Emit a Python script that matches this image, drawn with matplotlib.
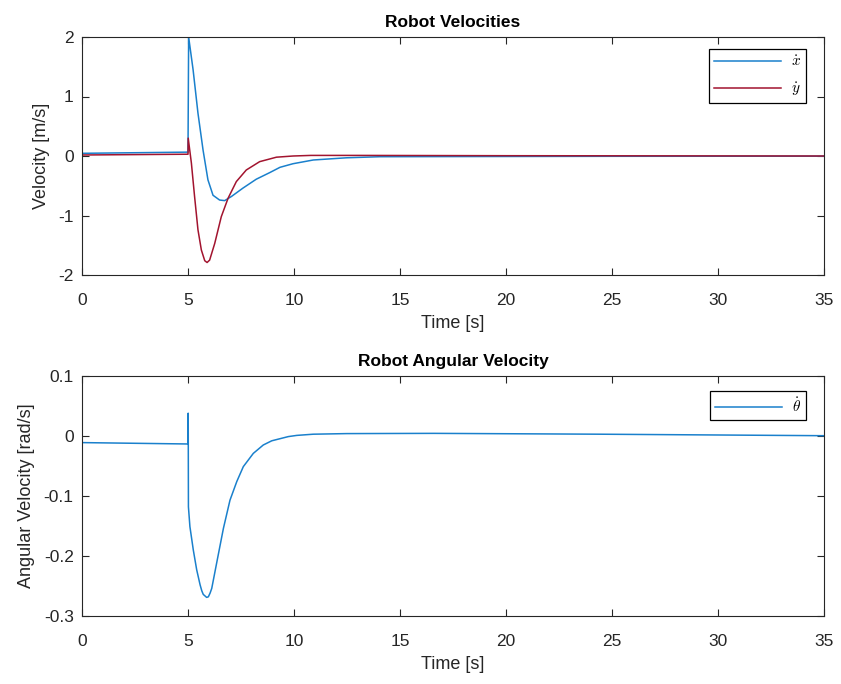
import matplotlib.pyplot as plt

plt.rcParams['font.family'] = ['Liberation Sans', 'DejaVu Sans']
plt.rcParams['axes.unicode_minus'] = False
plt.rcParams['mathtext.fontset'] = 'cm'

# x velocity
t_xdot = [0, 5.0, 5.03, 5.24, 5.47, 5.71, 5.94, 6.18, 6.49, 6.73, 7.05, 7.59,
          8.22, 8.85, 9.34, 9.95, 10.91, 12.48, 14.06, 17, 25, 35]
xdot = [0.045, 0.065, 2.0, 1.45, 0.72, 0.10, -0.40, -0.66, -0.74, -0.75, -0.68, -0.54,
        -0.39, -0.28, -0.19, -0.13, -0.067, -0.03, -0.012, -0.01, -0.005, -0.003]

# y velocity
t_ydot = [0, 5.0, 5.01, 5.16, 5.31, 5.47, 5.63, 5.79, 5.9, 6.02, 6.26, 6.57,
          6.89, 7.28, 7.75, 8.38, 9.17, 9.96, 10.8, 13, 20, 35]
ydot = [0.017, 0.03, 0.30, -0.12, -0.68, -1.24, -1.58, -1.76, -1.79, -1.75, -1.47, -1.02,
        -0.71, -0.43, -0.235, -0.095, -0.02, 0.0, 0.01, 0.01, 0.005, 0.0]

# angular velocity
t_thdot = [0, 5.0, 5.01, 5.02, 5.09, 5.25, 5.41, 5.57, 5.65, 5.72, 5.88, 5.96,
           6.04, 6.12, 6.35, 6.67, 6.98, 7.3, 7.61, 8.08, 8.55, 8.95, 9.73,
           10.13, 10.91, 12.48, 16.6, 24.4, 35]
thdot = [-0.011, -0.0133, 0.038, -0.118, -0.151, -0.19, -0.223, -0.248, -0.258, -0.264, -0.269, -0.268,
         -0.262, -0.254, -0.212, -0.154, -0.107, -0.076, -0.051, -0.029, -0.015, -0.008, -0.001,
         0.001, 0.003, 0.004, 0.0044, 0.003, 0.0005]

xticks = [0, 5, 10, 15, 20, 25, 30, 35]
yticks_top = [-2, -1, 0, 1, 2]
yticks_bot = [-0.3, -0.2, -0.1, 0, 0.1]
yticklabels_bot = ['-0.3', '-0.2', '-0.1', '0', '0.1']

blue = '#1a80cc'
red = '#A2142F'
edge = '#262626'

fig = plt.figure(figsize=(8.41, 6.84), dpi=100)
ax1 = fig.add_axes([82 / 841, 1 - 275 / 684, 742 / 841, 238 / 684])
ax2 = fig.add_axes([82 / 841, 1 - 616 / 684, 742 / 841, 240 / 684])


def style(ax):
    ax.set_xlim(0, 35)
    ax.set_xticks(xticks)
    ax.set_xticklabels([str(v) for v in xticks])
    ax.tick_params(direction='in', length=5, width=0.8, top=True, right=True,
                   labelsize=12.5, colors=edge, pad=6)
    ax.tick_params(axis='x', pad=13)
    for s in ax.spines.values():
        s.set_color(edge)
        s.set_linewidth(0.8)
    ax.set_xlabel('Time [s]', fontsize=13, color=edge, labelpad=5)


def legend(ax, anchor, hl):
    leg = ax.legend(loc='upper right', bbox_to_anchor=anchor,
                    fancybox=False, edgecolor='black', framealpha=1, fontsize=11,
                    handlelength=hl, handletextpad=0.6, borderaxespad=0,
                    borderpad=0.35, labelspacing=0.75)
    leg.get_frame().set_linewidth(0.9)


ax1.plot(t_xdot, xdot, color=blue, lw=1.1, label=r'$\dot{x}$')
ax1.plot(t_ydot, ydot, color=red, lw=1.1, label=r'$\dot{y}$')
style(ax1)
ax1.set_ylim(-2, 2)
ax1.set_yticks(yticks_top)
ax1.set_yticklabels([str(v) for v in yticks_top])
ax1.set_ylabel('Velocity [m/s]', fontsize=13, color=edge, labelpad=6)
ax1.set_title('Robot Velocities', fontsize=12.5, fontweight='bold', pad=7)
legend(ax1, (724 / 742, 1 - 12 / 238), 4.4)

ax2.plot(t_thdot, thdot, color=blue, lw=1.1, label=r'$\dot{\theta}$')
style(ax2)
ax2.set_ylim(-0.3, 0.1)
ax2.set_yticks(yticks_bot)
ax2.set_yticklabels(yticklabels_bot)
ax2.set_ylabel('Angular Velocity [rad/s]', fontsize=13, color=edge, labelpad=6)
ax2.set_title('Robot Angular Velocity', fontsize=12.5, fontweight='bold', pad=7)
legend(ax2, (724 / 742, 1 - 15 / 240), 4.4)

fig.savefig('out.png', dpi=100)
